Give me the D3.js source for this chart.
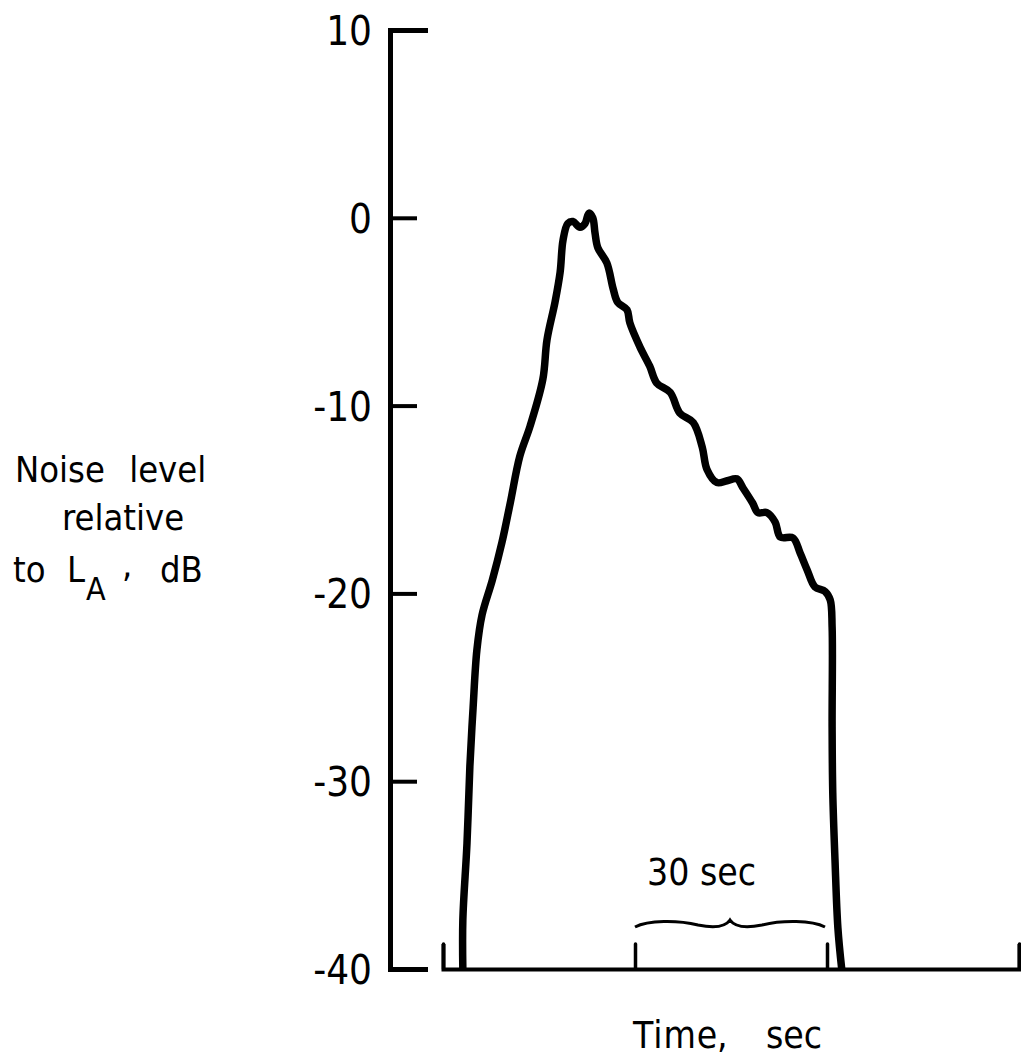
<!DOCTYPE html>
<html>
<head>
<meta charset="utf-8">
<script src="https://cdn.jsdelivr.net/npm/d3@7"></script>
<style>
  body { margin: 0; background: #fff; }
  svg text { font-family: 'DejaVu Sans Condensed', 'Liberation Sans', sans-serif; fill: #000; }
</style>
</head>
<body>
<div class="canvas"></div>
<script>
// traced noise-level time history
const timeSec = [3.1, 3.1, 3.75, 4.2, 4.7, 5.3, 6.1, 7.7, 9.2, 10.5, 12.0, 13.6, 15.6, 16.25, 17.5, 18.3, 18.75,
  19.5, 20.3, 21.4, 22.2, 22.8, 23.4, 23.75, 24.2, 25.6, 26.6, 27.3, 28.75, 29.2, 30.8, 32.3, 33.4, 35.5, 37.0,
  39.1, 40.5, 41.25, 42.8, 44.4, 45.9, 46.9, 48.4, 49.2, 50.6, 51.9, 52.7, 54.7, 55.8, 56.9, 58.1, 59.7, 60.5,
  60.8, 60.8, 60.9, 61.25, 61.7, 62.3];
const levelDb = [-40, -37.4, -33.3, -29.2, -26.1, -23.0, -21.15, -19.3, -17.3, -15.2, -12.7, -11.1, -8.6, -6.5, -4.5, -2.9, -1.2,
  -0.3, -0.2, -0.5, -0.3, 0.25, 0.0, -0.8, -1.6, -2.4, -3.8, -4.5, -4.9, -5.6, -6.9, -7.9, -8.8, -9.3, -10.4,
  -10.9, -12.2, -13.4, -14.1, -14.0, -13.9, -14.4, -15.2, -15.7, -15.7, -16.2, -17.0, -17.05, -17.85, -18.75, -19.65, -19.9, -20.35,
  -21.8, -27.1, -30.6, -34.2, -37.8, -40];
const yTicks = [-40, -30, -20, -10, 0, 10];
const xTicks = [0, 30, 60, 90];
const bracket = [30, 60];   // the "30 sec" span

const svg = d3.select('.canvas')
              .append('svg')
              .attr('width', 1021)
              .attr('height', 1063);

const x = d3.scaleLinear().domain([0, 90]).range([443, 1019]);
const y = d3.scaleLinear().domain([-40, 10]).range([969, 30]);

// y axis: ticks point right, labels on the left
const yAxis = d3.axisLeft(y)
                .tickValues(yTicks)
                .tickSizeInner(-27)
                .tickSizeOuter(-38)
                .tickPadding(18)
                .tickFormat(d => String(d));
const gy = svg.append('g')
              .attr('transform', 'translate(390,0)')
              .call(yAxis);
gy.select('.domain').attr('stroke', '#000').attr('stroke-width', 5);
gy.selectAll('.tick line').attr('stroke', '#000').attr('stroke-width', 4);
gy.selectAll('.tick text')
  .attr('font-size', 40)
  .attr('fill', '#000')
  .attr('dy', '0.36em');

// x axis: short ticks pointing up, no labels
const xAxis = d3.axisBottom(x)
                .tickValues(xTicks)
                .tickSizeInner(-25)
                .tickSizeOuter(-25)
                .tickFormat('');
const gx = svg.append('g')
              .attr('transform', `translate(0,${y(-40)})`)
              .call(xAxis);
gx.select('.domain').attr('stroke', '#000').attr('stroke-width', 4);
gx.selectAll('.tick line').attr('stroke', '#000').attr('stroke-width', 3.5).attr('stroke-linecap', 'round');

// the curve
const line = d3.line()
               .x((d, i) => x(timeSec[i]))
               .y(d => y(d))
               .curve(d3.curveCatmullRom.alpha(0.5));
svg.append('path')
   .attr('d', line(levelDb))
   .attr('fill', 'none')
   .attr('stroke', '#000')
   .attr('stroke-width', 7.5)
   .attr('stroke-linejoin', 'round');

// brace over the 30 sec span
const bx0 = x(bracket[0]), bx1 = x(bracket[1]) - 2, bm = (bx0 + bx1) / 2, by = 921;
const brace = d3.path();
brace.moveTo(bx0, by + 6);
brace.bezierCurveTo(bx0 + 13, by - 1, bx0 + 43, by - 1, bm - 32, by + 4);
brace.bezierCurveTo(bm - 12, by + 8, bm - 4, by + 5, bm, by - 1);
brace.bezierCurveTo(bm + 4, by + 5, bm + 12, by + 8, bm + 32, by + 4);
brace.bezierCurveTo(bx1 - 43, by - 1, bx1 - 13, by - 1, bx1, by + 6);
svg.append('path')
   .attr('d', brace.toString())
   .attr('fill', 'none')
   .attr('stroke', '#000')
   .attr('stroke-width', 3);

svg.append('text')
   .attr('x', 647).attr('y', 885)
   .attr('font-size', 37)
   .text('30 sec');

// axis titles
const yl = svg.append('g').attr('font-size', 36);
yl.append('text').attr('x', 15).attr('y', 482).attr('word-spacing', 14).text('Noise level');
yl.append('text').attr('x', 62).attr('y', 530).text('relative');
const t3 = yl.append('text').attr('x', 13).attr('y', 582);
t3.append('tspan').text('to');
t3.append('tspan').attr('x', 67).text('L');
t3.append('tspan').attr('x', 86).attr('dy', 18).attr('font-size', 32).text('A');
t3.append('tspan').attr('x', 122).attr('dy', -23).text(',');
t3.append('tspan').attr('x', 160).attr('dy', 5).text('dB');

const tl = svg.append('text')
   .attr('x', 633).attr('y', 1048)
   .attr('font-size', 37);
tl.append('tspan').attr('letter-spacing', 1).text('Time');
tl.append('tspan').attr('x', 717).text(',');
tl.append('tspan').attr('x', 766).text('sec');
</script>
</body>
</html>
